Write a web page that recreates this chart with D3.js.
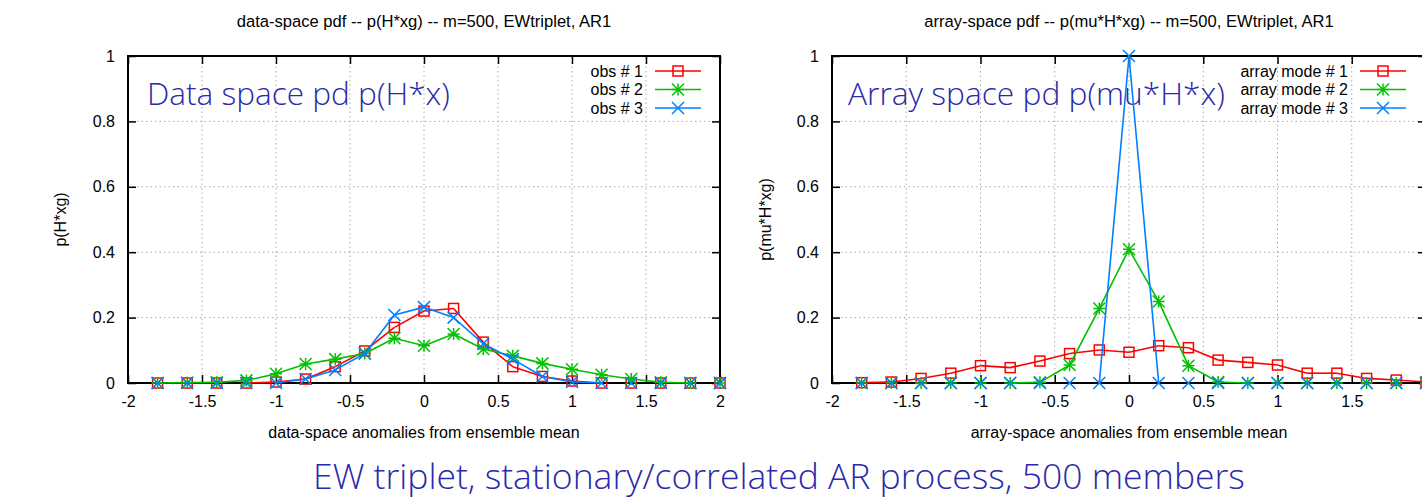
<!DOCTYPE html>
<html>
<head>
<meta charset="utf-8">
<title>EW triplet pdfs</title>
<script src="https://cdn.jsdelivr.net/npm/d3@7"></script>
<style>
  body { margin: 0; background: #fff; }
  svg text { font-family: "Liberation Sans", Arial, sans-serif; fill: #000; }
  svg text.big { font-family: "Open Sans", "Lato", sans-serif; font-weight: 300; fill: #2a2aaa; }
</style>
</head>
<body>
<script>
// anomaly bins (both panels)
const xs = [-1.8, -1.6, -1.4, -1.2, -1.0, -0.8, -0.6, -0.4, -0.2, 0, 0.2, 0.4, 0.6, 0.8, 1.0, 1.2, 1.4, 1.6, 1.8, 2.0];

// data-space pdf
const obs1 = [0, 0, 0, 0, 0.003, 0.012, 0.05, 0.098, 0.17, 0.22, 0.228, 0.125, 0.05, 0.02, 0.006, 0, 0, 0, 0, 0];
const obs2 = [0, 0.001, 0.002, 0.008, 0.028, 0.058, 0.073, 0.09, 0.137, 0.114, 0.15, 0.104, 0.083, 0.06, 0.042, 0.025, 0.012, 0.002, 0, 0];
const obs3 = [0, 0, 0, 0, 0, 0.012, 0.04, 0.09, 0.208, 0.232, 0.2, 0.12, 0.073, 0.02, 0.003, 0, 0, 0, 0, 0];

// array-space pdf
const mode1 = [0.001, 0.003, 0.014, 0.03, 0.053, 0.047, 0.067, 0.09, 0.101, 0.094, 0.114, 0.108, 0.07, 0.063, 0.055, 0.03, 0.03, 0.014, 0.009, 0.003];
const mode2 = [0, 0, 0, 0, 0, 0, 0.002, 0.055, 0.228, 0.409, 0.249, 0.053, 0.003, 0, 0, 0, 0, 0, 0, 0];
const mode3 = [0, 0, 0, 0, 0, 0, 0, 0, 0, 1.0, 0, 0, 0, 0, 0, 0, 0, 0, 0, 0];

const xTicks = [-2, -1.5, -1, -0.5, 0, 0.5, 1, 1.5, 2];
const yTicks = [0, 0.2, 0.4, 0.6, 0.8, 1];

const leftLabels = ['obs # 1', 'obs # 2', 'obs # 3'];
const rightLabels = ['array mode # 1', 'array mode # 2', 'array mode # 3'];
const colors = ['#ff0000', '#00c000', '#0080ff'];
const shapes = ['square', 'star', 'cross'];

const width = 1422, height = 500;
const svg = d3.select('body').append('svg')
    .attr('width', width)
    .attr('height', height);

// scale font so text spans a given width
function fit(sel, w) {
    const cur = sel.node().getComputedTextLength();
    const fs = parseFloat(sel.style('font-size'));
    sel.style('font-size', (fs * w / cur) + 'px');
}

function marker(g, shape, color, cx, cy) {
    const m = g.append('g').attr('transform', `translate(${cx},${cy})`)
        .attr('stroke', color).attr('stroke-width', 1.5).attr('fill', 'none');
    if (shape === 'square') {
        m.append('rect').attr('x', -5).attr('y', -5).attr('width', 10).attr('height', 10);
    } else {
        const s = 6;
        m.append('path').attr('d', `M${-s},${-s}L${s},${s}M${-s},${s}L${s},${-s}`);
        if (shape === 'star') m.append('path').attr('d', `M${-s},0L${s},0M0,${-s}L0,${s}`);
    }
}

function panel(o) {
    const x = d3.scaleLinear().domain([-2, 2]).range([o.left, o.right]);
    const y = d3.scaleLinear().domain([0, 1]).range([383, 56]);
    const g = svg.append('g');

    // grid
    g.selectAll('.gx').data(xTicks.slice(1, -1)).join('line')
        .attr('x1', d => x(d)).attr('x2', d => x(d))
        .attr('y1', y(0)).attr('y2', y(1))
        .attr('stroke', '#aaa').attr('stroke-width', 1).attr('stroke-dasharray', '1.5,3');
    g.selectAll('.gy').data(yTicks.slice(1, -1)).join('line')
        .attr('x1', x(-2)).attr('x2', x(2))
        .attr('y1', d => y(d)).attr('y2', d => y(d))
        .attr('stroke', '#aaa').attr('stroke-width', 1).attr('stroke-dasharray', '1.5,3');

    // big annotation
    const big = g.append('text').attr('class', 'big')
        .attr('x', o.bigX).attr('y', 105).style('font-size', '30px')
        .text(o.big);
    fit(big, o.bigW);

    // axes; labels past the page edge are dropped
    const fmt = d => (x(d) + 8 < width ? String(d) : '');
    const ax = [
        g.append('g').attr('transform', `translate(0,${y(0)})`)
            .call(d3.axisBottom(x).tickValues(xTicks).tickFormat(fmt).tickSize(-8).tickPadding(13)),
        g.append('g').attr('transform', `translate(0,${y(1)})`)
            .call(d3.axisTop(x).tickValues(xTicks).tickFormat('').tickSize(-8)),
        g.append('g').attr('transform', `translate(${x(-2)},0)`)
            .call(d3.axisLeft(y).tickValues(yTicks).tickFormat(String).tickSize(-8).tickPadding(13)),
        g.append('g').attr('transform', `translate(${x(2)},0)`)
            .call(d3.axisRight(y).tickValues(yTicks).tickFormat('').tickSize(-8))
    ];
    ax.forEach(a => {
        a.select('.domain').remove();
        a.selectAll('line').attr('stroke', '#000').attr('stroke-width', 1.5);
        a.selectAll('text').style('font-size', '16px');
    });
    g.append('rect')
        .attr('x', x(-2)).attr('y', y(1))
        .attr('width', x(2) - x(-2)).attr('height', y(0) - y(1))
        .attr('fill', 'none').attr('stroke', '#000').attr('stroke-width', 2);

    // titles
    const t = g.append('text').attr('x', (x(-2) + x(2)) / 2).attr('y', 27)
        .attr('text-anchor', 'middle').style('font-size', '16px').text(o.title);
    fit(t, o.titleW);
    g.append('text').attr('x', (x(-2) + x(2)) / 2).attr('y', 438)
        .attr('text-anchor', 'middle').style('font-size', '16px').text(o.xlabel);
    g.append('text').attr('transform', `translate(${o.ylabelX},${(y(0) + y(1)) / 2}) rotate(-90)`)
        .attr('text-anchor', 'middle').style('font-size', '16px').text(o.ylabel);

    // series
    const line = d3.line().x(d => x(d[0])).y(d => y(d[1]));
    o.series.forEach((vals, k) => {
        const pts = xs.map((v, i) => [v, vals[i]]);
        const segs = d3.pairs(pts).filter(p => p[0][1] > 0 || p[1][1] > 0);
        g.selectAll(null).data(segs).join('path')
            .attr('d', line).attr('fill', 'none')
            .attr('stroke', colors[k]).attr('stroke-width', 1.6);
        pts.forEach(p => marker(g, shapes[k], colors[k], x(p[0]), y(p[1])));
    });

    // legend
    o.labels.forEach((lab, k) => {
        const ly = 71 + 18.5 * k;
        g.append('text').attr('x', o.legX).attr('y', ly).attr('dy', '0.35em')
            .attr('text-anchor', 'end').style('font-size', '16px').text(lab);
        g.append('line').attr('x1', o.legX + 12).attr('x2', o.legX + 58)
            .attr('y1', ly).attr('y2', ly)
            .attr('stroke', colors[k]).attr('stroke-width', 1.6);
        marker(g, shapes[k], colors[k], o.legX + 35, ly);
    });
}

panel({
    left: 128, right: 720,
    series: [obs1, obs2, obs3], labels: leftLabels,
    title: 'data-space pdf -- p(H*xg) -- m=500, EWtriplet, AR1', titleW: 375,
    xlabel: 'data-space anomalies from ensemble mean',
    ylabel: 'p(H*xg)', ylabelX: 66,
    big: 'Data space pd p(H*x)', bigX: 147, bigW: 303,
    legX: 643
});

panel({
    left: 832, right: 1426,
    series: [mode1, mode2, mode3], labels: rightLabels,
    title: 'array-space pdf -- p(mu*H*xg) -- m=500, EWtriplet, AR1', titleW: 410,
    xlabel: 'array-space anomalies from ensemble mean',
    ylabel: 'p(mu*H*xg)', ylabelX: 771,
    big: 'Array space pd p(mu*H*x)', bigX: 848, bigW: 377,
    legX: 1348
});

const cap = svg.append('text').attr('class', 'big')
    .attr('x', 779).attr('y', 489).attr('text-anchor', 'middle')
    .style('font-size', '32px')
    .text('EW triplet, stationary/correlated AR process, 500 members');
fit(cap, 932);
</script>
</body>
</html>
